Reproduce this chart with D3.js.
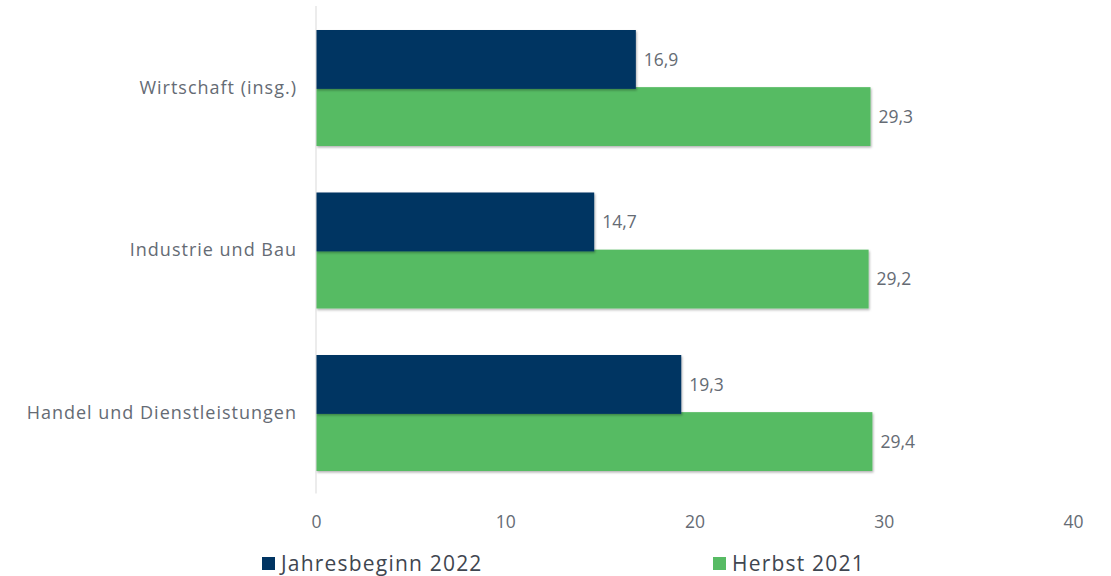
<!DOCTYPE html>
<html><head><meta charset="utf-8">
<script src="https://cdn.jsdelivr.net/npm/d3@7"></script>
<style>body{margin:0;background:#fff}svg{display:block}text{font-family:"Open Sans",Lato,sans-serif}</style>
</head><body><svg id="c" width="1111" height="576"></svg>
<script>
const categories = ["Wirtschaft (insg.)", "Industrie und Bau", "Handel und Dienstleistungen"];
const seriesNames = ["Jahresbeginn 2022", "Herbst 2021"];
const jahresbeginn2022 = [16.9, 14.7, 19.3];
const herbst2021 = [29.3, 29.2, 29.4];
const xTicks = [0, 10, 20, 30, 40];
const colors = ["#003462", "#57BB64"];

const svg = d3.select("#c");
const defs = svg.append("defs");
const f = defs.append("filter").attr("id","sh").attr("x","-5%").attr("y","-10%").attr("width","115%").attr("height","130%");
f.append("feDropShadow").attr("dx",1).attr("dy",1.5).attr("stdDeviation",1.2).attr("flood-color","#000").attr("flood-opacity",0.3);

const x = d3.scaleLinear().domain([0, 40]).range([316, 1073]);
const y = d3.scaleBand().domain(categories).range([6, 493.5]);
const sub = d3.scaleBand().domain(seriesNames).range([24, 140]).paddingInner(-0.03);

const data = categories.map((c,i)=>({c, vals:[jahresbeginn2022[i], herbst2021[i]]}));
const fmt = v => d3.format(".1f")(v).replace(".", ",");
const textCol = "#656b74";

[1,0].forEach(si=>{
  svg.append("g").selectAll("rect").data(data).join("rect")
    .attr("x", x(0)).attr("y", d=>y(d.c)+sub(seriesNames[si]))
    .attr("width", d=>x(d.vals[si])-x(0)).attr("height", sub.bandwidth())
    .attr("fill", colors[si]).attr("filter","url(#sh)");
  svg.append("g").selectAll("text").data(data).join("text")
    .attr("x", d=>x(d.vals[si])+8).attr("y", d=>y(d.c)+sub(seriesNames[si])+sub.bandwidth()/2)
    .attr("dy","0.35em").attr("font-size",17.5).attr("fill",textCol).text(d=>fmt(d.vals[si]));
});

svg.append("line").attr("x1",x(0)).attr("x2",x(0)).attr("y1",6).attr("y2",493.5).attr("stroke","#d9d9d9").attr("stroke-width",1);

svg.append("g").selectAll("text").data(categories).join("text")
  .attr("x",297).attr("y",d=>y(d)+y.bandwidth()/2).attr("dy","0.35em")
  .attr("text-anchor","end").attr("font-size",18).attr("letter-spacing","1px").attr("fill",textCol).text(d=>d);

const xa = svg.append("g").attr("transform","translate(0,522)")
  .call(d3.axisBottom(x).tickValues(xTicks).tickSize(0).tickPadding(0));
xa.select(".domain").remove();
xa.selectAll("text").attr("font-size",17.5).attr("fill",textCol).attr("dy","0.35em").style("font-family","'Open Sans',sans-serif");

const legX = [262, 713];
seriesNames.forEach((n,i)=>{
  svg.append("rect").attr("x",legX[i]).attr("y",557).attr("width",13).attr("height",13).attr("fill",colors[i]);
  svg.append("text").attr("x",legX[i]+19).attr("y",564).attr("dy","0.35em").attr("font-size",21).attr("letter-spacing","1.2px").attr("fill","#3f4650").text(n);
});
</script></body></html>
